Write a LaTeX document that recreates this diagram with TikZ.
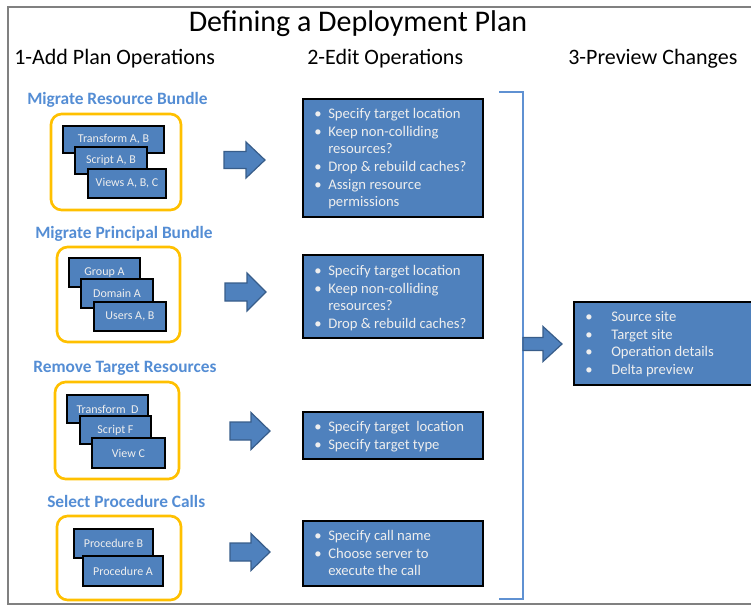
\documentclass[tikz,border=0pt]{standalone}
\usepackage{fontspec}
\setmainfont{Carlito}
\usetikzlibrary{fit}
\definecolor{boxblue}{HTML}{4F81BD}
\definecolor{edgeblue}{HTML}{385D8A}
\definecolor{labelblue}{RGB}{84,141,212}
\definecolor{bracketblue}{RGB}{95,145,210}
\definecolor{gold}{HTML}{FFC000}
\definecolor{framegray}{HTML}{808080}
\definecolor{lighttext}{RGB}{238,238,238}
\newcommand\bi{\makebox[10.5pt][l]{\textbullet}}
\newcommand\bc{\hspace*{10.5pt}}
\newcommand\bp{\makebox[19.5pt][l]{\textbullet}}
\newcommand\blockarrow[6]{%
  \filldraw[barrow] ({#1},{#2-#5}) -- ({#3},{#2-#5}) -- ({#3},{#2-#6}) -- ({#4},{#2})
    -- ({#3},{#2+#6}) -- ({#3},{#2+#5}) -- ({#1},{#2+#5}) -- cycle;}
\begin{document}
\begin{tikzpicture}[x=0.75pt,y=-0.75pt,
  title/.style={anchor=base, inner sep=0pt, font=\fontsize{22.5pt}{27pt}\selectfont},
  header/.style={anchor=base west, inner sep=0pt, font=\fontsize{16.5pt}{20pt}\selectfont},
  grouplabel/.style={anchor=base west, inner sep=0pt, text=labelblue, font=\fontsize{13pt}{15pt}\selectfont\bfseries},
  groupbox/.style={draw=gold, line width=2pt, rounded corners=8pt, inner sep=0pt},
  item/.style={draw=black, fill=boxblue, line width=1.9pt, inner sep=0pt},
  itemtext/.style={text=lighttext, inner sep=0pt, font=\fontsize{9pt}{10pt}\selectfont},
  opbox/.style={draw=black, fill=boxblue, line width=1.9pt, inner sep=0pt},
  listtext/.style={anchor=north west, inner sep=0pt, align=left, text=lighttext, font=\fontsize{11pt}{13.3pt}\selectfont},
  barrow/.style={fill=boxblue, draw=edgeblue, line width=0.9pt, line join=miter},
  bracket/.style={draw=bracketblue, line width=2pt}
]
\path[use as bounding box, clip] (0,0) rectangle (751,607);
\draw[framegray, line width=1.5pt] (8,7) rectangle (780,604);

% titles
\node[title] (title) at (358,31) {Defining a Deployment Plan};
\node[header] (h1) at (14,64) {1-Add Plan Operations};
\node[header] (h2) at (307,64) {2-Edit Operations};
\node[header] (h3) at (568,64) {3-Preview Changes};

% group labels
\node[grouplabel] (l1) at (27,104) {Migrate Resource Bundle};
\node[grouplabel] (l2) at (35,238) {Migrate Principal Bundle};
\node[grouplabel] (l3) at (33,372) {Remove Target Resources};
\node[grouplabel] (l4) at (47,507) {Select Procedure Calls};

% group boxes
\node[groupbox, fit={(51,114) (181,210)}] (g1) {};
\node[groupbox, fit={(57,247) (180,342)}] (g2) {};
\node[groupbox, fit={(55,382) (179,479)}] (g3) {};
\node[groupbox, fit={(57,516) (181,600)}] (g4) {};

% items group 1
\node[item, fit={(63,126) (164,153)}] (i11) {};
\node[itemtext] (t11) at (i11.center) {Transform A, B};
\node[item, fit={(75,147) (147,174)}] (i12) {};
\node[itemtext] (t12) at (i12.center) {Script A, B};
\node[item, fit={(88,169) (166,198)}] (i13) {};
\node[itemtext] (t13) at (i13.center) {Views A, B, C};

% items group 2
\node[item, fit={(69,258) (140,287)}] (i21) {};
\node[itemtext] (t21) at (i21.center) {Group A};
\node[item, fit={(81,279) (153,308)}] (i22) {};
\node[itemtext] (t22) at (i22.center) {Domain A};
\node[item, fit={(94,302) (166,331)}] (i23) {};
\node[itemtext] (t23) at (i23.center) {Users A, B};

% items group 3
\node[item, fit={(67,395) (148,423)}] (i31) {};
\node[itemtext] (t31) at (i31.center) {Transform\ \ D};
\node[item, fit={(80,416) (151,444)}] (i32) {};
\node[itemtext] (t32) at (i32.center) {Script F};
\node[item, fit={(92,438) (165,468)}] (i33) {};
\node[itemtext] (t33) at (i33.center) {View C};

% items group 4
\node[item, fit={(74,529) (153,558)}] (i41) {};
\node[itemtext] (t41) at (i41.center) {Procedure B};
\node[item, fit={(83,556) (163,586)}] (i42) {};
\node[itemtext] (t42) at (i42.center) {Procedure A};

% operation boxes
\node[opbox, fit={(303,99) (483,217)}] (e1) {};
\node[listtext] (e1t) at (314,105.6) {\strut\bi Specify target location\\ \bi Keep non-colliding\\ \bc resources?\\ \bi Drop \& rebuild caches?\\ \bi Assign resource\\ \bc permissions};
\node[opbox, fit={(303,255) (483,338)}] (e2) {};
\node[listtext] (e2t) at (314,262.6) {\strut\bi Specify target location\\ \bi Keep non-colliding\\ \bc resources?\\ \bi Drop \& rebuild caches?};
\node[opbox, fit={(303,412) (483,459)}] (e3) {};
\node[listtext] (e3t) at (314,418.6) {\strut\bi Specify target\ \ location\\ \bi Specify target type};
\node[opbox, fit={(303,521) (483,586)}] (e4) {};
\node[listtext] (e4t) at (314,527.6) {\strut\bi Specify call name\\ \bi Choose server to\\ \bc execute the call};

% preview box
\node[opbox, fit={(574,302) (790,385)}] (p) {};
\node[listtext] (pt) at (585,308.6) {\strut\bp Source site\\ \bp Target site\\ \bp Operation details\\ \bp Delta preview};

% arrows
\blockarrow{224}{160}{246}{265}{8.5}{18}
\blockarrow{225}{292}{247}{266}{9}{19}
\blockarrow{230}{431}{251}{270}{9}{18.5}
\blockarrow{230}{552}{251}{270}{9}{18.5}

% bracket
\coordinate (bt) at (499,92);
\coordinate (bb) at (499,599);
\draw[bracket] (bt) -- (523,92) -- (523,599) -- (bb);
\blockarrow{523}{344}{543}{562}{6.5}{17.5}
\end{tikzpicture}
\end{document}
